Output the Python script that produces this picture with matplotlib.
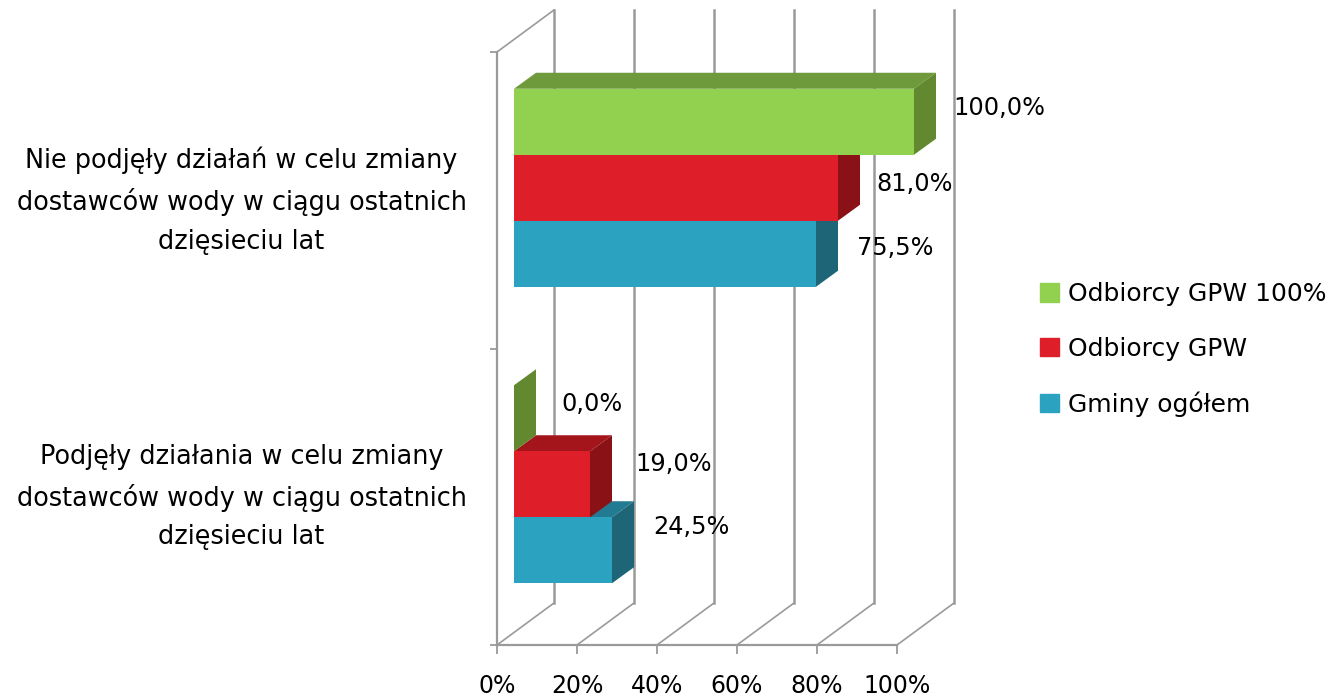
"""Grouped horizontal bars with an oblique 3D look."""

import matplotlib

matplotlib.use("Agg")
import matplotlib.pyplot as plt
from matplotlib.patches import Patch

categories = [
    "Podjęły działania w celu zmiany\ndostawców wody w ciągu ostatnich\ndzięsieciu lat",
    "Nie podjęły działań w celu zmiany\ndostawców wody w ciągu ostatnich\ndzięsieciu lat",
]
series_names = ["Gminy ogółem", "Odbiorcy GPW", "Odbiorcy GPW 100%"]
gminy = [24.5, 75.5]
gpw = [19.0, 81.0]
gpw100 = [0.0, 100.0]
x_ticks = [0, 20, 40, 60, 80, 100]

front_colors = ["#2BA3C0", "#DE1F29", "#92D050"]
top_colors = ["#237A93", "#A3151B", "#6F9A3C"]
side_colors = ["#1E6677", "#8A1217", "#628830"]

# per bar label shift in pixels from the front bar end / bar middle
label_dx = [[41, 41], [45, 38], [47, 39]]
label_dy = [[23, 6], [20, 4], [14, 14]]

W, H = 1330, 697
GRID = "#9A9A9A"
FS = 17

# depth of the whole plot box and of the bars, in data units
BOX_DX, BOX_DY = 14.25, 42 / 296.5
BAR_X0, BAR_Y0 = 4.25, 12.5 / 296.5
BAR_DX, BAR_DY = 5.5, 16 / 296.5
BAR_H = 66 / 296.5


def main():
    fig = plt.figure(figsize=(W / 100, H / 100), dpi=100)
    ax = fig.add_axes([497 / W, (H - 645) / H, 400 / W, 593 / H])
    ax.set_xlim(0, 100)
    ax.set_ylim(0, 2)
    ax.patch.set_visible(False)

    for s in ["top", "right"]:
        ax.spines[s].set_visible(False)
    for s in ["left", "bottom"]:
        ax.spines[s].set_color(GRID)
        ax.spines[s].set_linewidth(1.6)

    # back wall and floor
    for t in x_ticks:
        ax.plot([t, t + BOX_DX], [0, BOX_DY], color=GRID, lw=1.2, clip_on=False, zorder=1)
        ax.plot([t + BOX_DX, t + BOX_DX], [BOX_DY, 2 + BOX_DY], color=GRID, lw=1.8,
                clip_on=False, zorder=1)
    ax.plot([0, BOX_DX], [2, 2 + BOX_DY], color=GRID, lw=1.2, clip_on=False, zorder=1)

    all_values = [gminy, gpw, gpw100]
    for i, values in enumerate(all_values):
        for j, v in enumerate(values):
            y0 = j + 0.5 - 1.5 * BAR_H + i * BAR_H + BAR_Y0
            y1 = y0 + BAR_H
            x0 = BAR_X0
            x1 = BAR_X0 + v
            z = 3 + i
            ax.fill([x0, x1, x1 + BAR_DX, x0 + BAR_DX], [y1, y1, y1 + BAR_DY, y1 + BAR_DY],
                    color=top_colors[i], lw=0, clip_on=False, zorder=z)
            ax.fill([x1, x1 + BAR_DX, x1 + BAR_DX, x1], [y0, y0 + BAR_DY, y1 + BAR_DY, y1],
                    color=side_colors[i], lw=0, clip_on=False, zorder=z)
            ax.barh(y0 + BAR_H / 2, v, height=BAR_H, left=x0, color=front_colors[i],
                    lw=0, clip_on=False, zorder=z)
            ax.annotate(
                "{:.1f}%".format(v).replace(".", ","),
                xy=(x1, y0 + BAR_H / 2),
                xytext=(label_dx[i][j] * 0.72, label_dy[i][j] * 0.72),
                textcoords="offset points",
                ha="left",
                va="center",
                fontsize=17.3,
                color="black",
                zorder=10,
                annotation_clip=False,
            )

    ax.set_xticks(x_ticks)
    ax.set_xticklabels(["{}%".format(t) for t in x_ticks], fontsize=FS)
    ax.tick_params(axis="x", length=6.5, width=1.3, color=GRID, pad=14.5)

    ax.set_yticks([0, 1, 2])
    ax.set_yticklabels([])
    ax.tick_params(axis="y", which="major", length=5, width=1.3, color=GRID)
    ax.set_yticks([0.53, 1.53], minor=True)
    ax.set_yticklabels(categories, minor=True, fontsize=18.4, multialignment="center",
                       linespacing=1.63)
    ax.tick_params(axis="y", which="minor", length=0, pad=22)

    handles = [Patch(color=front_colors[i]) for i in [2, 1, 0]]
    labels = [series_names[i] for i in [2, 1, 0]]
    fig.legend(
        handles,
        labels,
        loc="center left",
        bbox_to_anchor=(1040 / W, (H - 349.5) / H),
        frameon=False,
        fontsize=18,
        handlelength=0.76,
        handleheight=0.76,
        handletextpad=0.36,
        labelspacing=1.22,
        borderpad=0,
        borderaxespad=0,
    )

    fig.savefig("out.png", dpi=100)
    plt.close(fig)


if __name__ == "__main__":
    main()
